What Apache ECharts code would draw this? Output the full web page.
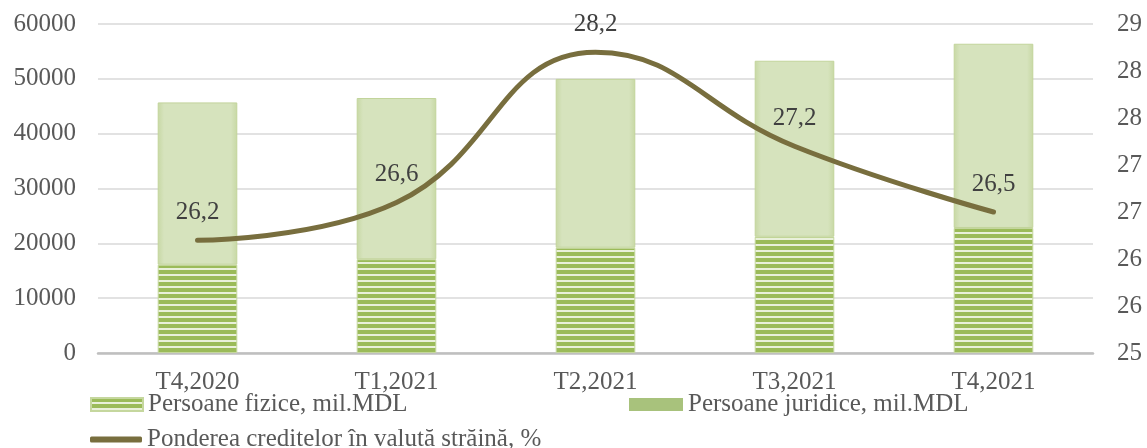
<!DOCTYPE html>
<html>
<head>
<meta charset="utf-8">
<script src="https://cdn.jsdelivr.net/npm/echarts@6/dist/echarts.min.js"></script>
<style>
  html, body { margin: 0; padding: 0; background: #fff; }
  #main { width: 1147px; height: 448px; }
</style>
</head>
<body>
<div id="main"></div>
<script>
// date
var categories = ['T4,2020', 'T1,2021', 'T2,2021', 'T3,2021', 'T4,2021'];
var fizice = [16100, 17100, 19200, 21200, 22800];
var juridice = [29600, 29400, 30800, 32100, 33600];
var pondere = [26.2, 26.6, 28.2, 27.2, 26.5];
var leftTicks = [0, 60000, 10000];   // min, max, interval
var rightTicks = [25, 28.5, 0.5];

var FONT = '"Liberation Serif", serif';

// model cu dungi orizontale pentru persoane fizice
function stripes() {
  var c = document.createElement('canvas');
  c.width = 8; c.height = 6;
  var ctx = c.getContext('2d');
  ctx.fillStyle = '#e9f0da';
  ctx.fillRect(0, 0, 8, 6);
  ctx.fillStyle = '#9bbb59';
  ctx.fillRect(0, 0, 8, 4);
  return c;
}

var myChart = echarts.init(document.getElementById('main'));

var option = {
  animation: false,
  grid: { left: 98, right: 54, top: 24, bottom: 95 },
  legend: [
    {
      left: 85, top: 387, itemWidth: 52, itemHeight: 13,
      textStyle: { fontFamily: FONT, fontSize: 25, color: '#595959' },
      data: [{ name: 'Persoane fizice, mil.MDL', icon: 'rect' }]
    },
    {
      left: 624, top: 387, itemWidth: 54, itemHeight: 13,
      textStyle: { fontFamily: FONT, fontSize: 25, color: '#595959' },
      data: [{ name: 'Persoane juridice, mil.MDL', icon: 'rect', itemStyle: { color: '#a8c27c', borderWidth: 0 } }]
    },
    {
      left: 85, top: 422, itemWidth: 52, itemHeight: 6,
      textStyle: { fontFamily: FONT, fontSize: 25, color: '#595959' },
      data: [{ name: 'Ponderea creditelor în valută străină, %', icon: 'roundRect' }]
    }
  ],
  xAxis: {
    type: 'category',
    data: categories,
    axisLine: { lineStyle: { color: '#bfbfbf', width: 2.5 } },
    axisTick: { show: false },
    axisLabel: { fontFamily: FONT, fontSize: 25, color: '#595959', margin: 17 }
  },
  yAxis: [
    {
      type: 'value',
      min: leftTicks[0], max: leftTicks[1], interval: leftTicks[2],
      axisLine: { show: false },
      axisTick: { show: false },
      splitLine: { lineStyle: { color: '#d9d9d9', width: 1.5 } },
      axisLabel: {
        fontFamily: FONT, fontSize: 25, color: '#595959', margin: 22,
        formatter: function (v) { return String(v); }
      }
    },
    {
      type: 'value',
      min: rightTicks[0], max: rightTicks[1], interval: rightTicks[2],
      axisLine: { show: false },
      axisTick: { show: false },
      splitLine: { show: false },
      axisLabel: {
        fontFamily: FONT, fontSize: 25, color: '#595959', margin: 24,
        formatter: function (v) { return Math.round(v).toString(); }
      }
    }
  ],
  series: [
    {
      name: 'Persoane fizice, mil.MDL',
      type: 'bar',
      stack: 'total',
      barWidth: '40%',
      data: fizice,
      itemStyle: {
        color: { image: stripes(), repeat: 'repeat' },
        borderColor: '#c5d79e', borderWidth: 1
      }
    },
    {
      name: 'Persoane juridice, mil.MDL',
      type: 'bar',
      stack: 'total',
      barWidth: '40%',
      data: juridice,
      itemStyle: {
        color: {
          type: 'linear', x: 0, y: 0, x2: 1, y2: 0,
          colorStops: [
            { offset: 0, color: '#c7d8a4' },
            { offset: 0.08, color: '#d6e3bd' },
            { offset: 0.92, color: '#d6e3bd' },
            { offset: 1, color: '#c7d8a4' }
          ]
        },
        borderColor: '#c2d49b', borderWidth: 1
      }
    },
    {
      name: 'Ponderea creditelor în valută străină, %',
      type: 'line',
      yAxisIndex: 1,
      smooth: 0.45,
      data: pondere,
      symbol: 'circle',
      symbolSize: 1,
      lineStyle: { color: '#786e3e', width: 5, cap: 'round' },
      itemStyle: { color: '#786e3e' },
      label: {
        show: true,
        position: 'top',
        distance: 15,
        fontFamily: FONT,
        fontSize: 25,
        color: '#404040',
        formatter: function (p) { return p.value.toFixed(1).replace('.', ','); }
      },
      z: 5
    }
  ]
};

myChart.setOption(option);
</script>
</body>
</html>
